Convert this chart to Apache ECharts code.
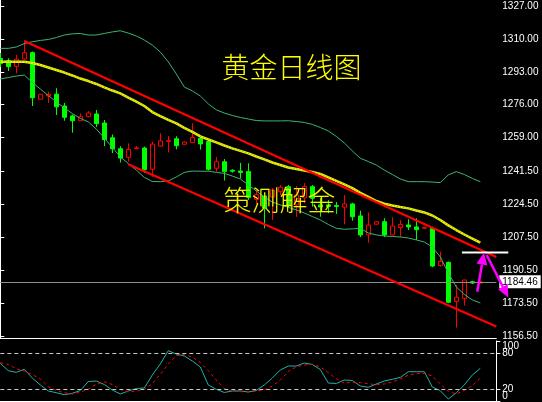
<!DOCTYPE html>
<html><head><meta charset="utf-8">
<script src="https://cdn.jsdelivr.net/npm/echarts@6/dist/echarts.min.js"></script>
<style>html,body{margin:0;padding:0;background:#000;}#c{width:542px;height:402px;}</style>
</head><body><div id="c"></div>
<script>
// ---- data ----
const openP = [1299.9,1298.8,1295.8,1299.6,1302.9,1278.8,1280.5,1281.4,1275.3,1270.2,
  1267.7,1269.8,1271.2,1266.5,1258.9,1253.2,1248.8,1253.4,1253.6,1242.6,
  1254.6,1257.0,1258.4,1255.5,1256.4,1258.6,1256.9,1243.1,1246.5,1242.1,
  1241.7,1241.4,1227.0,1228.8,1228.3,1231.0,1233.6,1224.2,1227.8,1233.6,
  1224.2,1224.2,1223.9,1223.0,1224.7,1218.5,1208.7,1214.2,1215.5,1208.7,
  1212.5,1213.8,1212.8,1212.1,1212.0,1192.8,1194.5,1174.2,1175.9,1184.5,1183.8];
const closeP = [1297.3,1295.7,1299.5,1302.9,1279.6,1281.4,1281.3,1274.9,1269.5,1267.7,
  1269.8,1271.7,1266.2,1258.0,1253.2,1248.4,1252.9,1253.7,1242.4,1255.6,
  1257.3,1257.4,1254.8,1256.7,1259.0,1255.7,1242.6,1246.5,1241.4,1241.6,
  1241.0,1228.0,1229.5,1222.6,1231.9,1233.3,1224.2,1229.3,1233.7,1227.6,
  1223.1,1223.4,1223.4,1224.7,1218.1,1208.7,1213.8,1215.5,1208.7,1213.3,
  1214.1,1212.8,1211.4,1212.6,1192.6,1194.9,1173.9,1176.5,1185.4,1183.8,1184.46];
const highP = [1302.7,1300.0,1301.7,1309.2,1303.5,1281.5,1282.8,1284.5,1276.9,1270.9,
  1271.5,1272.7,1273.3,1268.1,1260.6,1254.5,1256.0,1254.6,1254.3,1256.9,
  1261.2,1259.8,1259.7,1257.0,1266.4,1259.4,1257.4,1249.0,1247.9,1242.6,
  1245.9,1245.7,1232.0,1230.4,1232.9,1234.5,1234.5,1234.0,1235.5,1234.5,
  1227.6,1226.7,1225.7,1229.3,1225.3,1221.2,1220.3,1215.6,1217.3,1217.8,
  1216.4,1216.8,1217.3,1212.8,1212.9,1200.0,1194.9,1182.8,1185.4,1185.0,1185.1];
const lowP = [1295.5,1293.4,1292.2,1299.3,1275.3,1278.7,1276.9,1270.7,1267.7,1261.5,
  1267.7,1269.5,1264.5,1254.6,1251.0,1246.1,1246.5,1252.9,1240.7,1238.8,
  1254.1,1251.3,1252.9,1255.4,1256.2,1252.8,1241.9,1241.4,1236.8,1240.9,
  1237.9,1226.7,1224.5,1212.1,1216.4,1229.3,1223.1,1218.0,1225.0,1223.3,
  1218.1,1219.9,1219.5,1214.1,1216.0,1207.5,1204.7,1214.1,1207.5,1208.4,
  1207.6,1211.2,1206.1,1211.9,1192.0,1192.3,1173.4,1160.8,1172.1,1183.3,1183.6];
const bbUpper = [1305.1,1305.1,1305.8,1307.6,1308.5,1309.2,1309.7,1310.7,1312.0,1312.6,
  1312.8,1312.0,1312.0,1312.8,1313.6,1314.2,1313.0,1311.5,1309.4,1306.8,
  1303.2,1298.1,1291.9,1285.1,1283.1,1280.5,1276.4,1273.3,1271.7,1270.4,
  1269.4,1268.6,1267.8,1267.6,1267.6,1267.6,1267.7,1267.3,1266.8,1265.8,
  1264.2,1262.4,1259.6,1256.2,1252.1,1248.3,1246.6,1244.8,1242.2,1239.9,
  1237.6,1236.2,1236.2,1236.2,1236.0,1235.7,1239.7,1241.4,1239.9,1237.9,1236.2];
const bbLower = [1289.3,1290.0,1290.8,1291.3,1287.5,1284.1,1280.7,1277.4,1274.3,1271.4,
  1268.9,1267.1,1263.4,1258.8,1253.9,1249.0,1245.6,1242.2,1238.4,1236.3,
  1236.2,1236.6,1238.6,1241.0,1241.7,1241.6,1241.6,1241.0,1240.5,1239.1,
  1237.6,1234.5,1231.4,1228.3,1225.7,1224.2,1222.9,1221.6,1220.0,1218.2,
  1216.4,1214.1,1212.1,1211.6,1211.8,1212.1,1209.7,1208.7,1208.1,1207.9,
  1207.6,1207.1,1206.1,1205.0,1202.5,1197.3,1189.0,1181.8,1177.9,1175.1,1173.5];
const maLine = [1298.2,1298.2,1298.2,1298.2,1297.5,1296.5,1295.2,1293.9,1292.6,1291.1,
  1289.5,1288.2,1286.7,1284.9,1283.3,1281.8,1279.7,1277.6,1275.3,1272.2,
  1270.1,1268.1,1266.3,1264.0,1261.9,1259.6,1258.0,1256.5,1254.9,1253.4,
  1252.1,1250.8,1249.2,1247.7,1246.1,1244.8,1243.5,1242.8,1242.0,1241.2,
  1240.2,1238.4,1236.6,1234.8,1232.9,1230.4,1228.3,1226.2,1224.8,1223.9,
  1223.1,1222.4,1221.3,1220.3,1218.7,1216.4,1213.6,1211.2,1208.9,1206.8,1204.7];
const stochK = [62.8,50.5,47.8,52.8,38.3,26.7,16.7,13.8,10.5,12.8,
  17.5,32.5,33.3,27.5,18.3,11.7,16.7,20.8,21.7,43.3,
  61.7,83.8,78.3,75,66.7,56.7,26.7,19.5,14.2,16.7,
  16.7,15,17.5,26.7,38.3,51.7,58.3,58.3,63.3,60.8,
  52.5,30,29.2,35,34.2,25,22.8,28.3,33.3,36.2,
  39.2,48.8,48.8,48.8,23.3,17.2,3.3,13.8,26.7,43.3,54.5];
const stochD = [63.8,60.7,53.7,50,44,37,23.8,17.5,13.7,11.7,
  15,19.5,28.3,32,27.5,19.2,15,16.7,19.2,29.2,
  44.2,61.7,75.8,77.7,73.3,64.2,50.8,35,20.8,16.2,
  15.5,15.5,16.7,18.3,25,35,49.2,57,60,61.3,
  56.7,47.5,37,30,31.2,30.7,28.7,27.2,28.3,31.7,
  36.7,43.3,45.8,45.8,41.7,28.3,15.8,11.7,17.5,25.8,38];
const priceTicks = [1156.5,1173.5,1190.5,1207.5,1224.5,1241.5,1259,1276,1293,1310,1327];
const stochLevelTicks = [20,80];
const stochEndTicks = [0,100];
const stochLevels = [80,20];
const lastPrice = 1184.46;
// annotations: [barIndex, price]
const channelUpper = [[3,1308.9],[62,1197.3]];
const channelLower = [[16,1245.2],[62,1161.4]];
const levelLine = [[57.7,1199.6],[63.5,1199.6]];
const arrowUp = [[59.62,1179.35],[60.46,1199.5]];
const arrowDown = [[60.8,1198.3],[63.5,1176.3]];
const titleText = '黄金日线图';
const markText = '策测解金';

const nBars = openP.length;
const totalSlots = nBars + 2;
const categories = Array.from({length: totalSlots}, (_, i) => String(i));
const candleData = openP.map((o, i) => [o, closeP[i], lowP[i], highP[i]]);

const chart = echarts.init(document.getElementById('c'), null, {renderer: 'canvas'});
const white = '#ffffff';
const font = 'Liberation Sans';
const lineSeries = (name, data, color, width, extra) => Object.assign({
  name, type: 'line', data, xAxisIndex: 0, yAxisIndex: 0, symbol: 'none', silent: true,
  lineStyle: {color, width}, z: 3
}, extra || {});

chart.setOption({
  backgroundColor: '#000000',
  animation: false,
  grid: [
    {left: 0.3, top: 0, width: 496, height: 338},
    {left: 0.3, top: 341, width: 496, height: 60}
  ],
  xAxis: [
    {gridIndex: 0, type: 'category', data: categories, boundaryGap: false,
     axisLine: {show: true, lineStyle: {color: white}}, axisTick: {show: false}, axisLabel: {show: false}, splitLine: {show: false}},
    {gridIndex: 1, type: 'category', data: categories, boundaryGap: false, position: 'top',
     axisLine: {show: true, lineStyle: {color: white}}, axisTick: {show: false}, axisLabel: {show: false}, splitLine: {show: false}},
    {gridIndex: 0, type: 'value', min: 0, max: totalSlots - 1, show: false}
  ],
  yAxis: [
    {gridIndex: 0, type: 'value', position: 'right', min: 1155.4, max: 1330.1,
     axisLine: {show: true, lineStyle: {color: white}},
     axisTick: {show: true, length: 4, lineStyle: {color: white}, customValues: priceTicks},
     axisLabel: {color: white, fontSize: 10, fontFamily: font, margin: 6, customValues: priceTicks,
                 showMinLabel: true, showMaxLabel: true, hideOverlap: false,
                 formatter: v => Number(v).toFixed(2)},
     splitLine: {show: false}},
    {gridIndex: 1, type: 'value', position: 'right', min: 0, max: 100,
     axisLine: {show: true, lineStyle: {color: white}},
     axisTick: {show: true, length: 4, lineStyle: {color: white}, customValues: stochLevelTicks},
     axisLabel: {color: white, fontSize: 10, fontFamily: font, margin: 6, customValues: stochLevelTicks,
                 showMinLabel: true, showMaxLabel: true, hideOverlap: false},
     splitLine: {show: false}},
    {gridIndex: 1, type: 'value', position: 'right', min: 0, max: 100,
     axisLine: {show: false},
     axisTick: {show: true, length: 4, lineStyle: {color: white}, customValues: stochEndTicks},
     axisLabel: {color: white, fontSize: 10, fontFamily: font, margin: 6, customValues: stochEndTicks,
                 showMinLabel: true, showMaxLabel: true, hideOverlap: false,
                 verticalAlignMaxLabel: 'top', verticalAlignMinLabel: 'bottom'},
     splitLine: {show: false}}
  ],
  series: [
    {name: 'XAUUSD', type: 'candlestick', xAxisIndex: 0, yAxisIndex: 0, data: candleData,
     barWidth: 5, silent: true, z: 2,
     itemStyle: {color: '#000000', color0: '#00ff00', borderColor: '#ff0000', borderColor0: '#00ff00',
                 borderColorDoji: '#00ff00', borderWidth: 1},
     markLine: {silent: true, symbol: ['none', 'none'], animation: false,
       data: [{yAxis: lastPrice}],
       lineStyle: {color: '#8e8e8e', width: 1, type: 'solid'},
       label: {show: true, position: 'end', distance: 3, formatter: lastPrice.toFixed(2),
               color: '#000', backgroundColor: '#fff', padding: [2, 3, 1, 3], fontSize: 10, fontFamily: font}}},
    lineSeries('BB upper', bbUpper, '#3cb371', 1),
    lineSeries('BB lower', bbLower, '#3cb371', 1),
    lineSeries('MA', maLine, '#f0f000', 2.5),
    lineSeries('MA core', maLine, '#4f9a4f', 1, {lineStyle: {color: '#6aa84f', width: 1, type: [1, 2]}, z: 4}),
    lineSeries('Channel upper', channelUpper, '#ff0000', 2.2, {xAxisIndex: 2, z: 5}),
    lineSeries('Channel lower', channelLower, '#ff0000', 2.2, {xAxisIndex: 2, z: 5}),
    {name: '%K', type: 'line', xAxisIndex: 1, yAxisIndex: 1, data: stochK, symbol: 'none', silent: true,
     lineStyle: {color: '#20b2aa', width: 1},
     markLine: {silent: true, symbol: ['none', 'none'], animation: false,
       data: stochLevels.map(v => ({yAxis: v})),
       lineStyle: {color: '#c8c8c8', width: 1, type: [4, 3]}, label: {show: false}}},
    {name: '%D', type: 'line', xAxisIndex: 1, yAxisIndex: 1, data: stochD, symbol: 'none', silent: true,
     lineStyle: {color: '#ff0000', width: 1, type: [3, 3]}}
  ]
});

// annotations positioned through the chart's own scales
const toPx = p => chart.convertToPixel({seriesIndex: 5}, p);
function arrowShapes(seg, color) {
  const a = toPx(seg[0]), b = toPx(seg[1]);
  const dx = b[0] - a[0], dy = b[1] - a[1];
  const len = Math.hypot(dx, dy), ux = dx / len, uy = dy / len;
  const hl = 12, hw = 5.5;
  const bx = b[0] - ux * hl, by = b[1] - uy * hl;
  return [
    {type: 'line', shape: {x1: a[0], y1: a[1], x2: bx, y2: by}, style: {stroke: color, lineWidth: 2.5}, z: 100},
    {type: 'polygon', shape: {points: [[b[0], b[1]], [bx - uy * hw, by + ux * hw], [bx + uy * hw, by - ux * hw]]},
     style: {fill: color}, z: 100}
  ];
}
const l0 = toPx(levelLine[0]), l1 = toPx(levelLine[1]);
const titlePos = toPx([36.4, 1295.5]);
const markPos = toPx([34.9, 1226.4]);
chart.setOption({
  graphic: [
    {type: 'line', shape: {x1: l0[0], y1: l0[1], x2: l1[0], y2: l1[1]}, style: {stroke: '#ffffff', lineWidth: 2}, z: 100},
    ...arrowShapes(arrowUp, '#ff00ff'),
    ...arrowShapes(arrowDown, '#ff00ff'),
    {type: 'text', x: titlePos[0], y: titlePos[1], z: 100,
     style: {text: titleText, fill: '#ffff00', font: '300 28px "Noto Sans CJK SC"', align: 'center', verticalAlign: 'middle'}},
    {type: 'text', x: markPos[0], y: markPos[1], z: 100,
     style: {text: markText, fill: '#f2f200', font: '300 28px "Noto Sans CJK SC"', align: 'center', verticalAlign: 'middle'}}
  ]
});
</script></body></html>
